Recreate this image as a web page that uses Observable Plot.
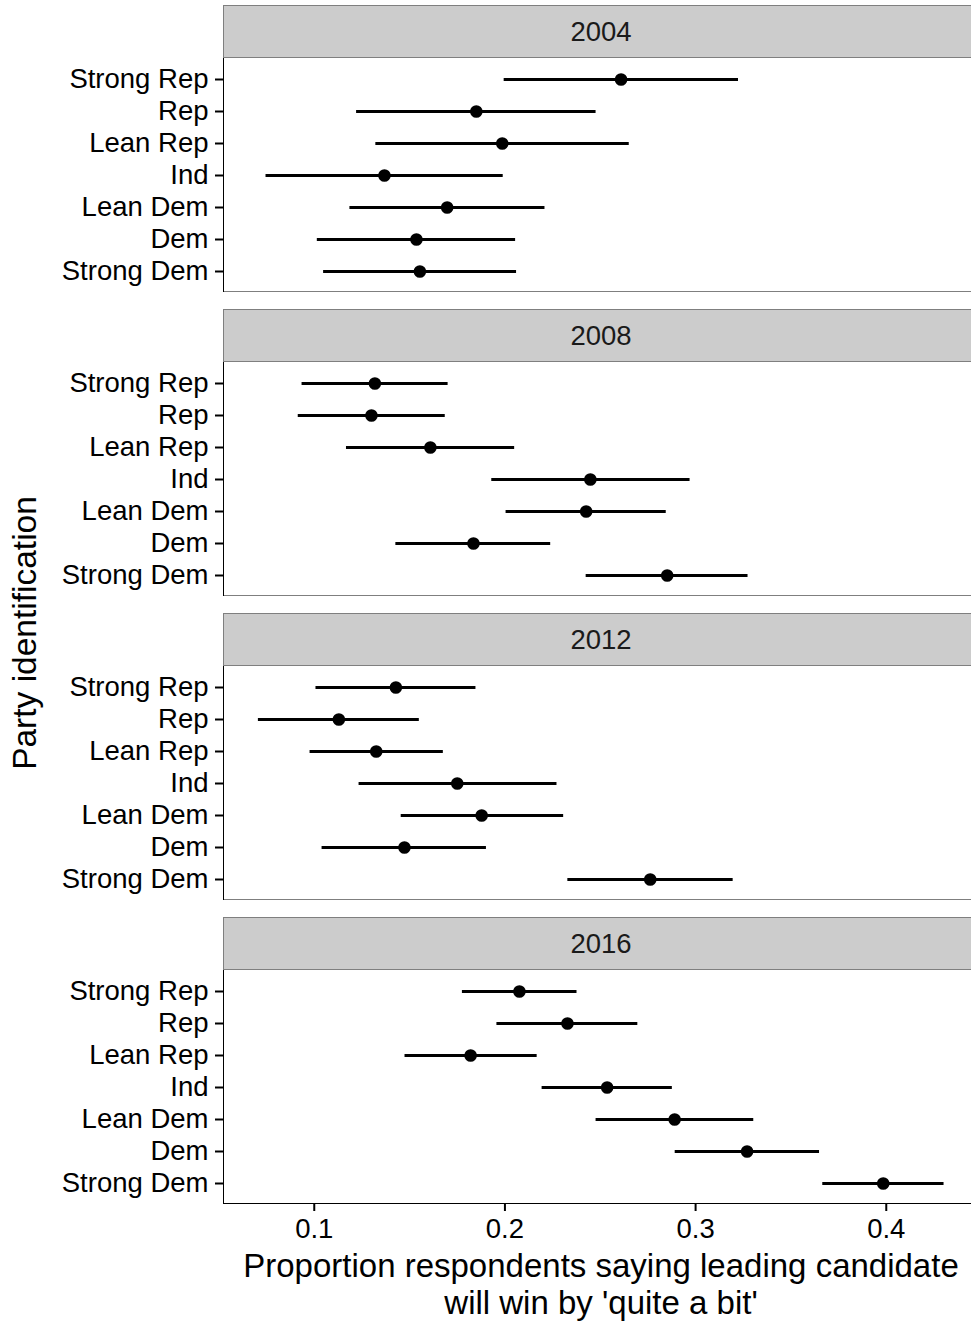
<!DOCTYPE html>
<html>
<head>
<meta charset="utf-8">
<script src="https://cdn.jsdelivr.net/npm/d3@7"></script>
<script src="https://cdn.jsdelivr.net/npm/@observablehq/plot@0.6"></script>
<style>
  html, body { margin: 0; padding: 0; background: #ffffff; }
  #chart { position: relative; width: 971px; height: 1323px; overflow: hidden;
           font-family: "Liberation Sans", Arial, Helvetica, sans-serif; background: #fff; }
  .strip { position: absolute; box-sizing: border-box; background: #cccccc;
           border: 1.5px solid #7f7f7f; display: flex; align-items: center; justify-content: center;
           font-size: 27.5px; color: #1a1a1a; }
  .pborder { position: absolute; box-sizing: border-box; pointer-events: none;
             border: 1.5px solid #7f7f7f; border-left: none; z-index: 1; }
  .facet { position: absolute; left: 0; z-index: 2; }
  .facet svg { display: block; }
  .facet svg g[aria-label*="axis"] line,
  .facet svg g[aria-label*="axis"] path { stroke-width: 2px; }
  .title { position: absolute; font-size: 33.5px; color: #000; white-space: nowrap; }
</style>
</head>
<body>
<div id="chart"></div>
<script>
// ---------------- data ----------------
const years = ["2004", "2008", "2012", "2016"];
const parties = ["Strong Rep", "Rep", "Lean Rep", "Ind", "Lean Dem", "Dem", "Strong Dem"];

const est2004 = [0.2609, 0.1850, 0.1986, 0.1368, 0.1697, 0.1536, 0.1554];
const lo2004  = [0.1996, 0.1222, 0.1323, 0.0747, 0.1187, 0.1016, 0.1049];
const hi2004  = [0.3225, 0.2478, 0.2652, 0.1991, 0.2210, 0.2056, 0.2061];

const est2008 = [0.1318, 0.1300, 0.1609, 0.2448, 0.2426, 0.1835, 0.2851];
const lo2008  = [0.0936, 0.0916, 0.1169, 0.1931, 0.2006, 0.1428, 0.2426];
const hi2008  = [0.1702, 0.1687, 0.2051, 0.2971, 0.2846, 0.2240, 0.3275];

const est2012 = [0.1428, 0.1129, 0.1325, 0.1750, 0.1878, 0.1473, 0.2762];
const lo2012  = [0.1009, 0.0707, 0.0978, 0.1235, 0.1456, 0.1041, 0.2330];
const hi2012  = [0.1848, 0.1551, 0.1677, 0.2273, 0.2308, 0.1903, 0.3197];

const est2016 = [0.2076, 0.2328, 0.1820, 0.2536, 0.2890, 0.3270, 0.3984];
const lo2016  = [0.1777, 0.1958, 0.1476, 0.2195, 0.2478, 0.2893, 0.3667];
const hi2016  = [0.2378, 0.2697, 0.2169, 0.2878, 0.3305, 0.3650, 0.4303];

const xTicks = [0.1, 0.2, 0.3, 0.4];
const xTickLabels = ["0.1", "0.2", "0.3", "0.4"];

const yTitle = "Party identification";
const xTitleLines = ["Proportion respondents saying leading candidate", "will win by 'quite a bit'"];

// ---------------- assembly ----------------
const seriesByYear = {
  "2004": [est2004, lo2004, hi2004],
  "2008": [est2008, lo2008, hi2008],
  "2012": [est2012, lo2012, hi2012],
  "2016": [est2016, lo2016, hi2016]
};

const chart = document.getElementById("chart");
const W = 971, ML = 223, PANELW = 756;      // panel runs past the right edge (cropped)
const FIRST = 5, PERIOD = 304, STRIPH = 53, BODYH = 233;
const xDomain = [0.0524, 0.4447];

years.forEach((yr, i) => {
  const top = FIRST + PERIOD * i;
  const isLast = i === years.length - 1;
  const [est, lo, hi] = seriesByYear[yr];
  const rows = parties.map((p, j) => ({party: p, est: est[j], lo: lo[j], hi: hi[j]}));

  const strip = document.createElement("div");
  strip.className = "strip";
  strip.style.left = ML + "px";
  strip.style.top = top + "px";
  strip.style.width = PANELW + "px";
  strip.style.height = STRIPH + "px";
  strip.textContent = yr;
  chart.appendChild(strip);

  const border = document.createElement("div");
  border.className = "pborder";
  border.style.left = ML + "px";
  border.style.top = (top + STRIPH - 1) + "px";
  border.style.width = PANELW + "px";
  border.style.height = (BODYH + 2) + "px";
  if (isLast) border.style.borderBottom = "none";
  chart.appendChild(border);

  const mb = isLast ? 46 : 0;
  const svg = Plot.plot({
    width: W,
    height: BODYH + mb,
    marginLeft: ML,
    marginRight: 0,
    marginTop: 0,
    marginBottom: mb,
    style: {
      fontFamily: "Liberation Sans, Arial, Helvetica, sans-serif",
      fontSize: "27.5px",
      color: "#000000",
      background: "transparent",
      overflow: "visible"
    },
    x: {
      domain: xDomain,
      axis: isLast ? "bottom" : null,
      ticks: xTicks,
      tickFormat: d => xTickLabels[xTicks.indexOf(d)],
      tickSize: 8,
      tickPadding: 7,
      label: null,
      line: true
    },
    y: {
      type: "point",
      domain: parties,
      padding: 0.6,
      tickSize: 8,
      tickPadding: 7,
      label: null,
      line: true
    },
    marks: [
      Plot.ruleY(rows, {y: "party", x1: "lo", x2: "hi", stroke: "#000", strokeWidth: 2.8}),
      Plot.dot(rows, {x: "est", y: "party", r: 6.3, fill: "#000", stroke: "none"})
    ]
  });

  const wrap = document.createElement("div");
  wrap.className = "facet";
  wrap.style.top = (top + STRIPH) + "px";
  wrap.appendChild(svg);
  chart.appendChild(wrap);
});

// axis titles
const yt = document.createElement("div");
yt.className = "title";
yt.textContent = yTitle;
yt.style.left = "25px";
yt.style.top = "633px";
yt.style.transform = "translate(-50%, -50%) rotate(-90deg)";
chart.appendChild(yt);

xTitleLines.forEach((line, k) => {
  const xt = document.createElement("div");
  xt.className = "title";
  xt.style.left = ML + "px";
  xt.style.width = PANELW + "px";
  xt.style.top = (1247 + 37 * k) + "px";
  xt.style.height = "37px";
  xt.style.lineHeight = "37px";
  xt.style.fontSize = "33px";
  xt.style.textAlign = "center";
  xt.textContent = line;
  chart.appendChild(xt);
});
</script>
</body>
</html>
